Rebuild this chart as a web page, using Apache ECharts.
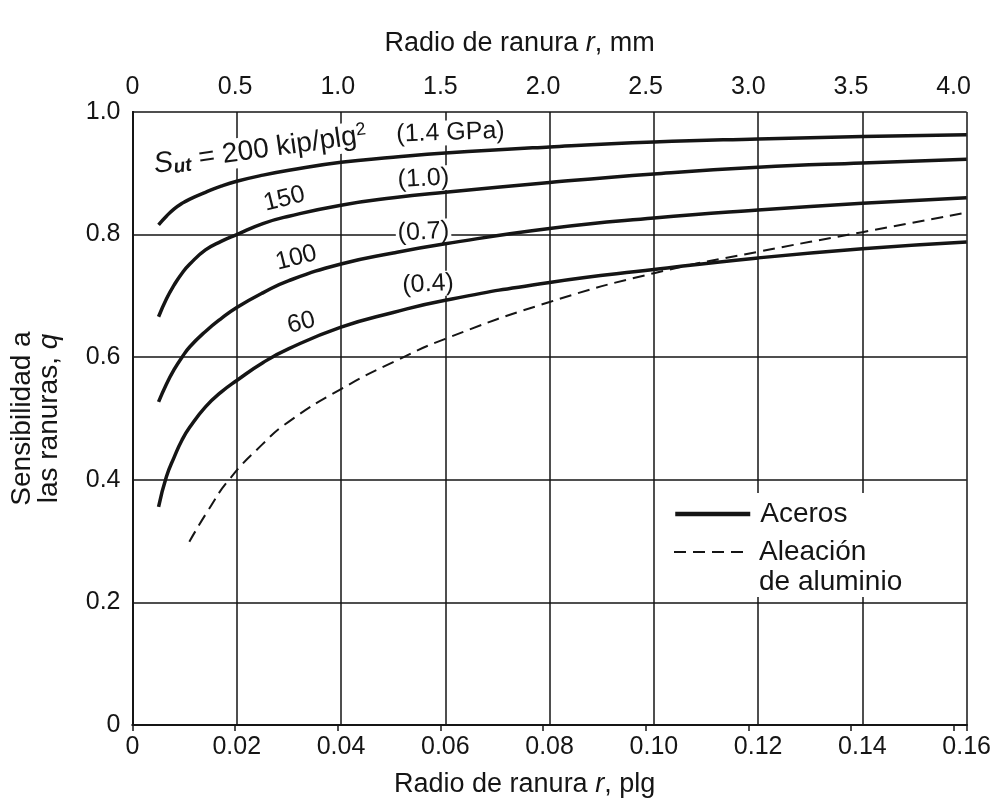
<!DOCTYPE html>
<html>
<head>
<meta charset="utf-8">
<script src="https://cdn.jsdelivr.net/npm/echarts@6/dist/echarts.min.js"></script>
<style>
  html, body { margin: 0; background: #fff; }
  #chart { width: 994px; height: 803px; }
</style>
</head>
<body>
<div id="chart"></div>
<script>
// radio de ranura r (plg) y sensibilidad q
var xSteel = [0.005, 0.0065, 0.008, 0.0095, 0.011, 0.014, 0.017, 0.02, 0.025, 0.03, 0.04, 0.05, 0.06, 0.08, 0.10, 0.12, 0.14, 0.16];
var q200 = [0.816, 0.830, 0.842, 0.851, 0.858, 0.869, 0.879, 0.887, 0.897, 0.905, 0.918, 0.926, 0.933, 0.943, 0.951, 0.956, 0.960, 0.963];
var q150 = [0.666, 0.695, 0.718, 0.737, 0.752, 0.775, 0.789, 0.800, 0.818, 0.830, 0.848, 0.860, 0.869, 0.885, 0.899, 0.910, 0.917, 0.923];
var q100 = [0.527, 0.556, 0.580, 0.600, 0.617, 0.642, 0.663, 0.681, 0.705, 0.725, 0.752, 0.770, 0.785, 0.810, 0.827, 0.840, 0.851, 0.860];
var q60  = [0.356, 0.405, 0.437, 0.465, 0.486, 0.519, 0.543, 0.562, 0.591, 0.614, 0.649, 0.673, 0.693, 0.722, 0.743, 0.762, 0.777, 0.788];
var xAlum = [0.0109, 0.0145, 0.0185, 0.0248, 0.03, 0.04, 0.05, 0.06, 0.08, 0.10, 0.12, 0.14, 0.16];
var qAlum = [0.299, 0.350, 0.400, 0.457, 0.495, 0.548, 0.592, 0.630, 0.690, 0.737, 0.772, 0.804, 0.836];

// etiquetas de las curvas
var curveLabels = [
  { x: 0.0245, y: 0.938, text: '{s|S}{sub|ut}{n| = 200 kip/plg}{sup|2}', rot: 8 },
  { x: 0.0610, y: 0.966, text: '(1.4 GPa)', rot: 2 },
  { x: 0.0291, y: 0.858, text: '150', rot: 14 },
  { x: 0.0558, y: 0.891, text: '(1.0)', rot: 3 },
  { x: 0.0314, y: 0.762, text: '100', rot: 14 },
  { x: 0.0558, y: 0.804, text: '(0.7)', rot: 3 },
  { x: 0.0324, y: 0.656, text: '60', rot: 14 },
  { x: 0.0567, y: 0.719, text: '(0.4)', rot: 3 }
];

var FONT = '"Liberation Sans", Arial, sans-serif';
var INK = '#151515';

function pairs(xs, ys) {
  return xs.map(function (x, i) { return [x, ys[i]]; });
}

function steel(data) {
  return {
    name: 'Aceros',
    type: 'line',
    data: pairs(xSteel, data),
    smooth: 0.5,
    symbol: 'none',
    itemStyle: { color: INK },
    lineStyle: { color: INK, width: 3.5 },
    z: 3
  };
}

var chart = echarts.init(document.getElementById('chart'));

var option = {
  backgroundColor: '#fff',
  animation: false,
  textStyle: { fontFamily: FONT, color: INK },
  grid: { left: 130, right: 24, top: 112, bottom: 78 },
  graphic: [{
    type: 'rect', left: 664, top: 493, z: 1,
    shape: { width: 301, height: 104 },
    style: { fill: '#fff' }
  }],
  legend: [{
    data: ['Aceros'],
    left: 673, top: 499, padding: 0,
    orient: 'vertical',
    itemWidth: 75, itemHeight: 20,
    itemStyle: { opacity: 0 },
    lineStyle: { color: INK, width: 4.5 },
    textStyle: { fontSize: 28, lineHeight: 30, color: INK, fontFamily: FONT, padding: [0, 0, 0, 5] }
  }, {
    data: ['Aleación\nde aluminio'],
    left: 673, top: 507, padding: 0,
    orient: 'vertical',
    itemWidth: 75, itemHeight: 20,
    itemStyle: { opacity: 0 },
    lineStyle: { color: INK, width: 2, type: [12, 7] },
    formatter: function (name) { return ' \n' + name; },
    textStyle: { fontSize: 28, lineHeight: 30, color: INK, fontFamily: FONT, padding: [0, 0, 0, 5] }
  }],
  xAxis: [{
    type: 'value',
    position: 'bottom',
    min: 0, max: 0.16, interval: 0.02,
    name: 'Radio de ranura {i|r}, plg',
    nameLocation: 'middle',
    nameGap: 46,
    nameTextStyle: {
      fontSize: 27, color: INK, fontFamily: FONT, padding: [0, 50, 0, 0],
      rich: { i: { fontSize: 27, fontStyle: 'italic', fontFamily: FONT, color: INK } }
    },
    axisLine: { show: true, lineStyle: { color: INK, width: 2 } },
    axisTick: { show: false },
    axisLabel: {
      fontSize: 25, color: INK, margin: 10,
      formatter: function (v) { return v === 0 ? '0' : v.toFixed(2); }
    },
    splitLine: { show: true, lineStyle: { color: INK, width: 1.5 } }
  }, {
    type: 'value',
    position: 'top',
    min: 0, max: 0.16 * 25.4, interval: 0.5,
    name: 'Radio de ranura {i|r}, mm',
    nameLocation: 'middle',
    nameGap: 55,
    nameTextStyle: {
      fontSize: 27, color: INK, fontFamily: FONT, padding: [0, 60, 0, 0],
      rich: { i: { fontSize: 27, fontStyle: 'italic', fontFamily: FONT, color: INK } }
    },
    axisLine: { show: true, lineStyle: { color: INK, width: 2 } },
    axisTick: { show: true, inside: true, length: 6, lineStyle: { color: INK, width: 1.5 } },
    axisLabel: {
      fontSize: 25, color: INK, margin: 12,
      formatter: function (v) {
        if (Math.abs(v / 0.5 - Math.round(v / 0.5)) > 1e-6) return '';
        return v === 0 ? '0' : v.toFixed(1);
      }
    },
    splitLine: { show: false }
  }],
  yAxis: [{
    type: 'value',
    min: 0, max: 1.0, interval: 0.2,
    name: 'Sensibilidad a\nlas ranuras, {i|q}',
    nameLocation: 'middle',
    nameGap: 70,
    nameTextStyle: {
      fontSize: 28, lineHeight: 27, color: INK, fontFamily: FONT,
      rich: { i: { fontSize: 28, lineHeight: 27, fontStyle: 'italic', fontFamily: FONT, color: INK } }
    },
    axisLine: { show: true, lineStyle: { color: INK, width: 2 } },
    axisTick: { show: false },
    axisLabel: {
      fontSize: 25, color: INK, margin: 12,
      formatter: function (v) { return v === 0 ? '0' : v.toFixed(1); }
    },
    splitLine: { show: true, lineStyle: { color: INK, width: 1.5 } }
  }, {
    type: 'value',
    position: 'right',
    min: 0, max: 1.0,
    axisLine: { show: true, lineStyle: { color: INK, width: 2 } },
    axisTick: { show: false },
    axisLabel: { show: false },
    splitLine: { show: false }
  }],
  series: [
    steel(q200),
    steel(q150),
    steel(q100),
    steel(q60),
    {
      name: 'Aleación\nde aluminio',
      type: 'line',
      data: pairs(xAlum, qAlum),
      smooth: 0.5,
      symbol: 'none',
      itemStyle: { color: INK },
      lineStyle: { color: INK, width: 2, type: [12, 7] },
      z: 3
    },
    {
      type: 'scatter',
      silent: true,
      symbolSize: 0,
      z: 2,
      itemStyle: { opacity: 1, color: INK },
      data: curveLabels.map(function (d) {
        return {
          value: [d.x, d.y],
          label: { formatter: d.text, rotate: d.rot }
        };
      }),
      label: {
        show: true,
        position: 'inside',
        fontSize: 25,
        color: INK,
        opacity: 1,
        fontFamily: FONT,
        backgroundColor: '#fff',
        padding: [0, 2],
        rich: {
          s: { fontSize: 29, fontStyle: 'italic', fontFamily: FONT, color: INK, lineHeight: 30 },
          sub: { fontSize: 19, fontStyle: 'italic', fontWeight: 'bold', fontFamily: FONT, color: INK, lineHeight: 16, verticalAlign: 'bottom' },
          n: { fontSize: 28, fontFamily: FONT, color: INK, lineHeight: 30 },
          sup: { fontSize: 18, fontFamily: FONT, color: INK, lineHeight: 14, verticalAlign: 'top' }
        }
      }
    }
  ]
};

chart.setOption(option);
</script>
</body>
</html>
